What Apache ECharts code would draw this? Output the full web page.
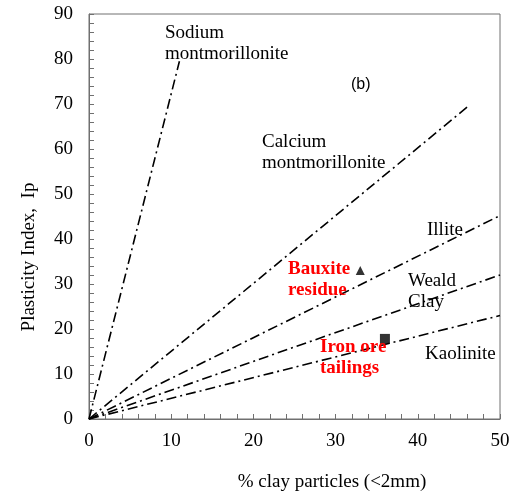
<!DOCTYPE html>
<html>
<head>
<meta charset="utf-8">
<script src="https://cdn.jsdelivr.net/npm/echarts@6/dist/echarts.min.js"></script>
<style>
  html, body { margin: 0; padding: 0; background: #fff; }
  #chart { width: 514px; height: 495px; }
</style>
</head>
<body>
<div id="chart"></div>
<script>
// Clay mineral reference lines (start and end points: % clay, plasticity index)
const mineralNames = ['Sodium montmorillonite', 'Calcium montmorillonite', 'Illite', 'Weald Clay', 'Kaolinite'];
const mineralStart = [[0, 0], [0, 0], [0, 0], [0, 0], [0, 0]];
const mineralEnd = [[11, 79.5], [46, 69.3], [50, 45.2], [50, 32.0], [50, 23.0]];

// Measured materials
const bauxiteResidue = [[33, 33]];
const ironOreTailings = [[36, 17.8]];

// Axis ranges and ticks
const xTicks = [0, 10, 20, 30, 40, 50];
const yTicks = [0, 10, 20, 30, 40, 50, 60, 70, 80, 90];

const serif = '"Liberation Serif", "Times New Roman", serif';
const dashDot = [10, 4, 2, 4];

const series = mineralNames.map((name, i) => ({
  name: name,
  type: 'line',
  data: [mineralStart[i], mineralEnd[i]],
  symbol: 'none',
  lineStyle: { color: '#000', width: 1.6, type: dashDot },
  z: 2
}));

series.push({
  name: 'Bauxite residue',
  type: 'scatter',
  data: bauxiteResidue,
  symbol: 'triangle',
  symbolSize: 9,
  itemStyle: { color: '#000' },
  z: 3
});
series.push({
  name: 'Iron ore tailings',
  type: 'scatter',
  data: ironOreTailings,
  symbol: 'rect',
  symbolSize: 10,
  itemStyle: { color: '#000' },
  z: 3
});

function txt(x, y, text, opts) {
  return {
    type: 'text',
    left: x,
    top: y,
    z: 10,
    style: Object.assign({
      text: text,
      font: '19px ' + serif,
      fill: '#000',
      lineHeight: 21
    }, opts || {})
  };
}

const chart = echarts.init(document.getElementById('chart'), null, { renderer: 'canvas' });
chart.setOption({
  animation: false,
  backgroundColor: '#fff',
  grid: {
    left: 89, right: 14, top: 14, bottom: 76,
    show: true, borderColor: '#707070', borderWidth: 1, backgroundColor: 'transparent'
  },
  xAxis: {
    type: 'value',
    min: xTicks[0], max: xTicks[xTicks.length - 1], interval: 10,
    axisLine: { show: true, lineStyle: { color: '#707070', width: 1 } },
    axisTick: { show: true, inside: true, length: 5, lineStyle: { color: '#707070' } },
    minorTick: { show: true, splitNumber: 5, length: 5, lineStyle: { color: '#707070' } },
    axisLabel: { fontFamily: serif, fontSize: 19, color: '#000', margin: 13 },
    splitLine: { show: false }
  },
  yAxis: {
    type: 'value',
    min: yTicks[0], max: yTicks[yTicks.length - 1], interval: 10,
    axisLine: { show: true, lineStyle: { color: '#707070', width: 1 } },
    axisTick: { show: true, inside: true, length: 5, lineStyle: { color: '#707070' } },
    minorTick: { show: true, splitNumber: 5, length: 5, lineStyle: { color: '#707070' } },
    axisLabel: { fontFamily: serif, fontSize: 19, color: '#000', margin: 16 },
    splitLine: { show: false }
  },
  series: series,
  graphic: [
    // axis titles
    {
      type: 'text', x: 332, y: 482, z: 10,
      style: { text: '% clay particles (<2mm)', font: '19px ' + serif, fill: '#000',
               textAlign: 'center', textVerticalAlign: 'middle' }
    },
    {
      type: 'text', x: 29, y: 257, rotation: Math.PI / 2, z: 10,
      style: { text: 'Plasticity Index,  Ip', font: '19px ' + serif, fill: '#000',
               textAlign: 'center', textVerticalAlign: 'middle' }
    },
    // line and point annotations
    txt(165, 23, 'Sodium\nmontmorillonite'),
    txt(351, 74, '(b)', { font: '16px "Liberation Sans", Arial, sans-serif' }),
    txt(262, 132, 'Calcium\nmontmorillonite'),
    txt(427, 220, 'Illite'),
    txt(408, 271, 'Weald\nClay'),
    txt(425, 344, 'Kaolinite'),
    txt(288, 259, 'Bauxite\nresidue', { font: 'bold 19px ' + serif, fill: '#f00' }),
    txt(320, 337, 'Iron ore\ntailings', { font: 'bold 19px ' + serif, fill: '#f00' })
  ]
});
</script>
</body>
</html>
